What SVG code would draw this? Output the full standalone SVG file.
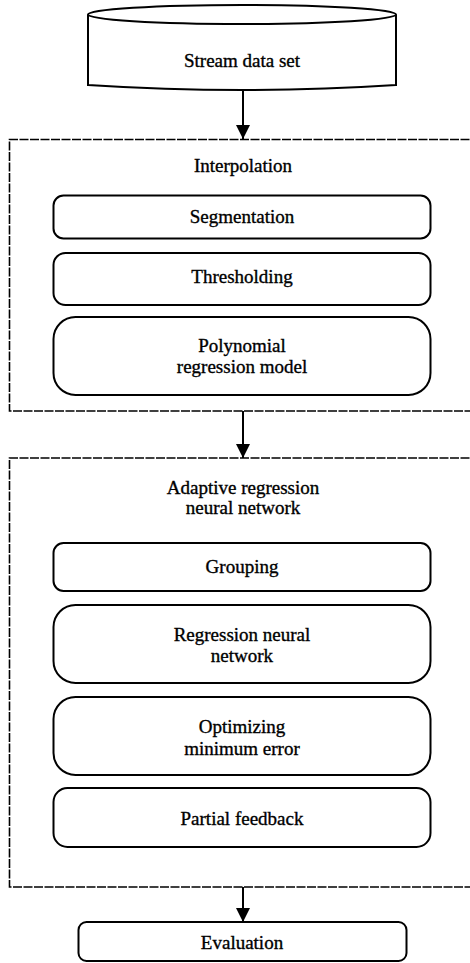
<svg xmlns="http://www.w3.org/2000/svg" width="470" height="963" viewBox="0 0 470 963">
<style>
.box{fill:#fff;stroke:#000;stroke-width:2}
.dash{fill:none;stroke:#000;stroke-width:1.6;stroke-dasharray:9 1.5}
.t{font-family:'Liberation Serif','DejaVu Serif',serif;font-size:19px;fill:#000;stroke:#000;stroke-width:0.35;text-anchor:middle}
.c{stroke:#000;stroke-width:2;fill:none}
</style>
<defs>
<marker id="ah2" viewBox="0 0 16 16" refX="16" refY="8" markerWidth="14" markerHeight="16" markerUnits="userSpaceOnUse" orient="auto">
<path d="M0,0 L16,8 L0,16 Z" fill="#000"/>
</marker>
</defs>
<rect width="470" height="963" fill="#fff"/>

<g id="stream">
<path class="box" d="M88,14.5 V85 Q242,95 396,85 V14.5"/>
<ellipse class="box" cx="242" cy="14.5" rx="154" ry="9.5"/>
<text class="t" x="242" y="67">Stream data set</text>
</g>

<g id="interpolation">
<path class="dash" d="M480,139.5 H9.5 V411 H480"/>
<text class="t" x="243" y="172">Interpolation</text>
</g>
<g id="segmentation">
<rect class="box" x="53.5" y="195.5" width="377" height="43" rx="10"/>
<text class="t" x="242" y="223">Segmentation</text>
</g>
<g id="thresholding">
<rect class="box" x="53.5" y="253" width="377" height="52" rx="12"/>
<text class="t" x="242" y="283">Thresholding</text>
</g>
<g id="polynomial">
<rect class="box" x="53.5" y="317" width="377" height="78" rx="22"/>
<text class="t" x="242" y="352">Polynomial</text>
<text class="t" x="242" y="373">regression model</text>
</g>

<g id="arnn">
<path class="dash" d="M480,458 H9.5 V887 H480"/>
<text class="t" x="243" y="494">Adaptive regression</text>
<text class="t" x="243" y="514">neural network</text>
</g>
<g id="grouping">
<rect class="box" x="53.5" y="543" width="377" height="48" rx="10"/>
<text class="t" x="242" y="573">Grouping</text>
</g>
<g id="rnn">
<rect class="box" x="53.5" y="605" width="377" height="78" rx="22"/>
<text class="t" x="242" y="641">Regression neural</text>
<text class="t" x="242" y="662">network</text>
</g>
<g id="optimizing">
<rect class="box" x="53.5" y="697" width="377" height="78" rx="22"/>
<text class="t" x="242" y="733">Optimizing</text>
<text class="t" x="242" y="755">minimum error</text>
</g>
<g id="feedback">
<rect class="box" x="53.5" y="788" width="377" height="59" rx="14"/>
<text class="t" x="242" y="825">Partial feedback</text>
</g>

<g id="evaluation">
<rect class="box" x="78.5" y="922" width="328" height="39" rx="8"/>
<text class="t" x="242" y="949">Evaluation</text>
</g>

<g id="connectors">
<line class="c" x1="243" y1="90" x2="243" y2="139" marker-end="url(#ah2)"/>
<line class="c" x1="243" y1="411" x2="243" y2="458" marker-end="url(#ah2)"/>
<line class="c" x1="243" y1="887" x2="243" y2="922" marker-end="url(#ah2)"/>
</g>
</svg>
